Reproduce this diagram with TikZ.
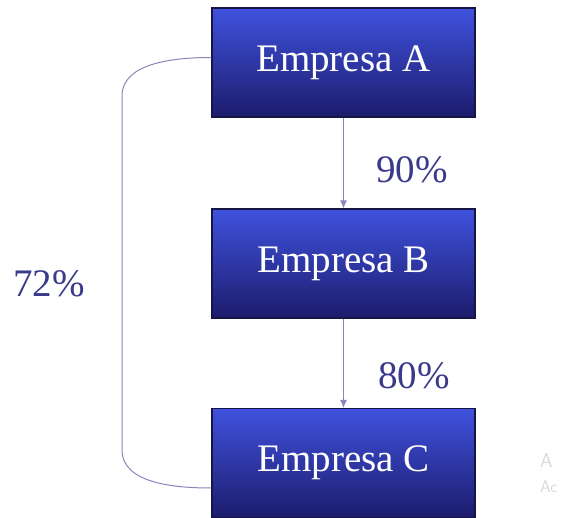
\documentclass[tikz,border=0pt]{standalone}
\usepackage{fontspec}
\setmainfont{Liberation Serif}
\usetikzlibrary{shapes,arrows,arrows.meta,positioning,calc}
\definecolor{boxtop}{RGB}{64,82,222}
\definecolor{boxmid}{RGB}{44,52,182}
\definecolor{boxbot}{RGB}{28,28,108}
\definecolor{boxedge}{RGB}{22,22,70}
\definecolor{linkcol}{RGB}{134,134,188}
\definecolor{pctcol}{RGB}{58,58,140}
\tikzstyle{empresa}=[draw=boxedge, line width=1.2pt, rectangle, top color=boxtop, middle color=boxmid, bottom color=boxbot, minimum height=109pt, minimum width=263pt, text=white, font=\fontsize{39}{42}\selectfont]
\tikzstyle{link} = [draw=linkcol, line width=1pt]
\tikzstyle{pct} = [text=pctcol, font=\fontsize{39}{42}\selectfont, inner sep=0pt]

\begin{document}
\begin{tikzpicture}[x=1pt, y=1pt, node distance=201pt, >={Latex[length=8pt, width=7pt]}]
      \useasboundingbox (0,0) rectangle (564,-518);
      \node[empresa] (blockA) at (343.5,-62.5) {Empresa A};
      \node[empresa, below of=blockA, node distance=201pt] (blockB) {Empresa B};
      \node[empresa, below of=blockB, node distance=199.5pt] (blockC) {Empresa C};
      \coordinate (cornerA) at (122,-96);
      \coordinate (cornerC) at (122,-450);
      \draw[link, ->] (blockA) -- node[pct, pos=0.58, right=32pt]{90\%} (blockB);
      \draw[link, ->] (blockB) -- node[pct, pos=0.64, right=34pt]{80\%} (blockC);
      \draw[link] ([yshift=5pt]blockA.west) to[out=180, in=90, looseness=0.9] (cornerA)
            -- node[pct, pos=0.53, left=37pt]{72\%} (cornerC)
            to[out=-90, in=180, looseness=0.9] ([yshift=-25pt]blockC.west);
      % faint watermark at the right edge
      \node[text=gray!30, font=\sffamily\fontsize{20}{22}\selectfont, anchor=west, inner sep=0pt] (wmA) at (540,-461) {A};
      \node[text=gray!30, font=\sffamily\fontsize{17}{18}\selectfont, anchor=west, inner sep=0pt] (wmB) at (540,-487) {Ac};
\end{tikzpicture}
\end{document}
